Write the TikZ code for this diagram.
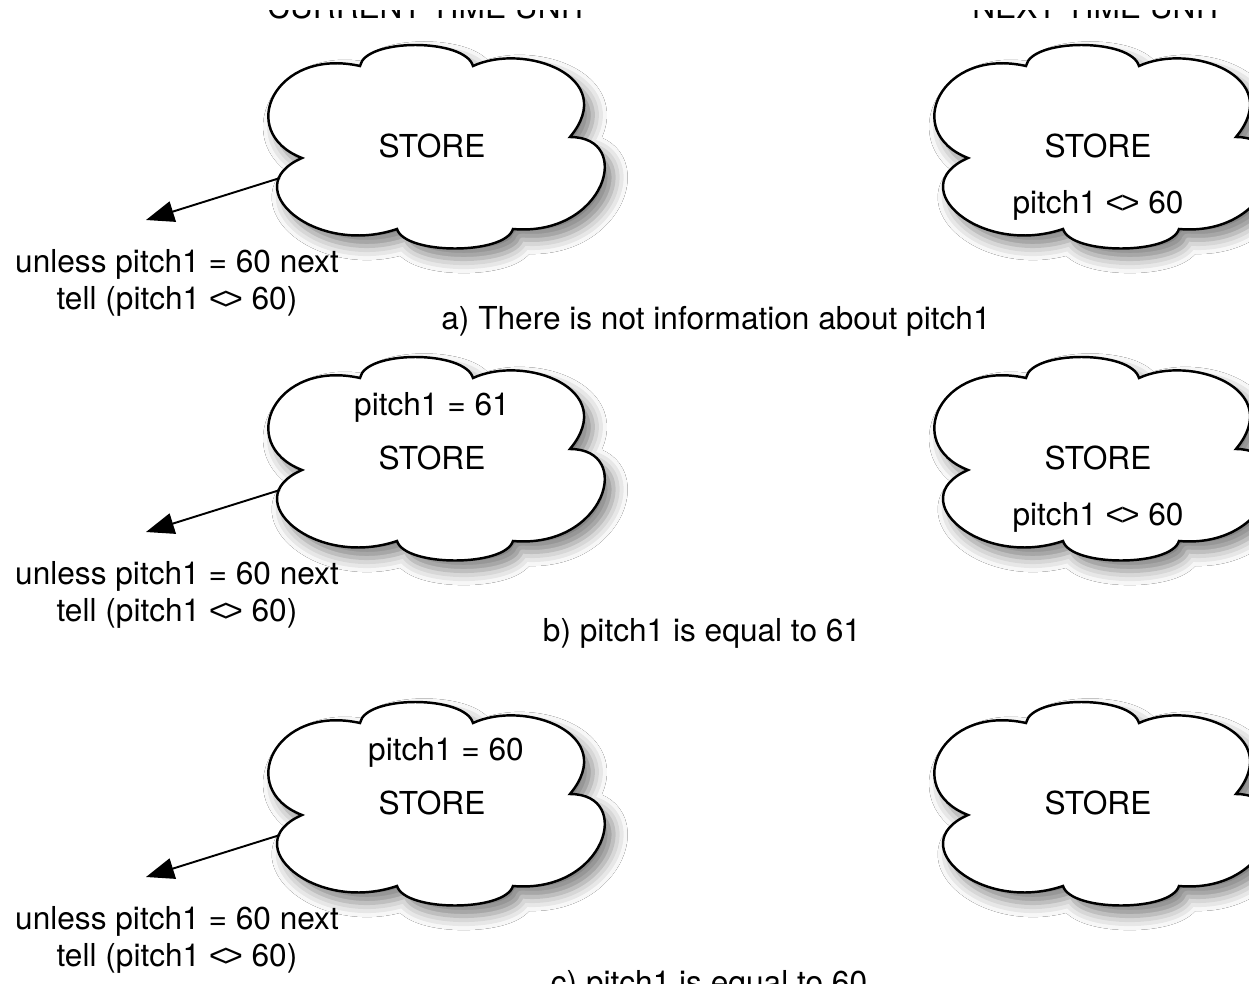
\documentclass[tikz,border=0pt]{standalone}
\usepackage{fontspec}
\setmainfont{TeX Gyre Heros}
\newfontfamily\arialfont{Liberation Sans}
\usetikzlibrary{arrows.meta,shadows.blur}
\newcommand{\ltgt}{{\arialfont<\kern-0.1em>}}

\begin{document}
\begin{tikzpicture}[x=0.02cm,y=-0.02cm,
	every node/.style={font=\fontsize{18}{22}\selectfont,inner sep=0pt,anchor=base},
	puff/.style={draw,line width=1.4pt,fill=white,
		blur shadow={shadow xshift=5pt,shadow yshift=-6pt,shadow blur radius=8pt,shadow opacity=50}},
	tellarrow/.style={-{Triangle[length=16pt,width=12pt]},line width=1.1pt},
	storecloud/.pic={
		\path[puff] (-75,-81) .. controls (-70,-109) and (30,-109) .. (38,-81)
			.. controls (90,-105) and (185,-70) .. (135,-10)
			.. controls (200,-10) and (170,90) .. (78,82)
			.. controls (70,108) and (-30,108) .. (-38,82)
			.. controls (-120,110) and (-200,40) .. (-133,11)
			.. controls (-200,-15) and (-160,-100) .. cycle;
		\coordinate (-tail) at (-155,31);
	}]
	\useasboundingbox (0,0) rectangle (1249,991);
	\fill[white] (0,0) rectangle (1249,991);
	\clip (0,10) rectangle (1249,983);
	
	\node (t1) at (428,18) {CURRENT TIME UNIT};
	\node (t2) at (1098,18) {NEXT TIME UNIT};
	
	% a)
	\pic (c1) at (435,147) {storecloud};
	\pic (d1) at (1101,147) {storecloud};
	\node (s1) at (432,157) {STORE};
	\node (r1) at (1098,157) {STORE};
	\node (q1) at (1098,213) {pitch1 \ltgt{} 60};
	\node (u1) at (177,272) {unless pitch1 = 60 next};
	\node (v1) at (177,309) {tell (pitch1 \ltgt{} 60)};
	\coordinate (h1) at (146,220);
	\draw[tellarrow] (c1-tail) -- (h1);
	\node (l1) at (716,329) {a) There is not information about pitch1};
	
	% b)
	\pic (c2) at (435,459) {storecloud};
	\pic (d2) at (1101,459) {storecloud};
	\node (p2) at (432,415) {pitch1 = 61};
	\node (s2) at (432,469) {STORE};
	\node (r2) at (1098,469) {STORE};
	\node (q2) at (1098,525) {pitch1 \ltgt{} 60};
	\node (u2) at (177,584) {unless pitch1 = 60 next};
	\node (v2) at (177,621) {tell (pitch1 \ltgt{} 60)};
	\coordinate (h2) at (146,532);
	\draw[tellarrow] (c2-tail) -- (h2);
	\node (l2) at (702,641) {b) pitch1 is equal to 61};
	
	% c)
	\pic (c3) at (435,804) {storecloud};
	\pic (d3) at (1101,804) {storecloud};
	\node (p3) at (446,760) {pitch1 = 60};
	\node (s3) at (432,814) {STORE};
	\node (r3) at (1098,814) {STORE};
	\node (u3) at (177,929) {unless pitch1 = 60 next};
	\node (v3) at (177,966) {tell (pitch1 \ltgt{} 60)};
	\coordinate (h3) at (146,877);
	\draw[tellarrow] (c3-tail) -- (h3);
	\node (l3) at (709,993) {c) pitch1 is equal to 60};
	
\end{tikzpicture}
\end{document}
